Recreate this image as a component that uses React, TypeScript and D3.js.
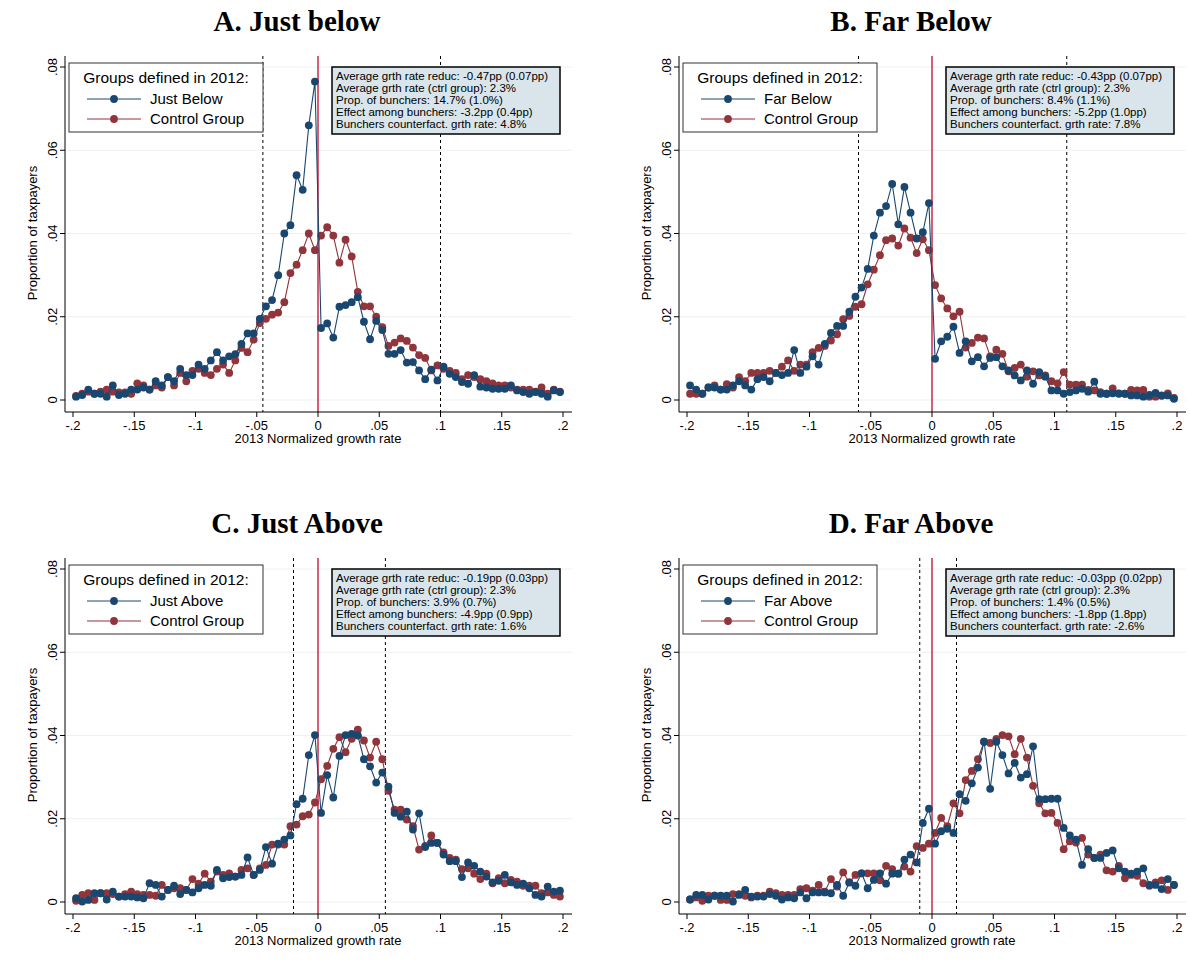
import * as d3 from "d3";

// bin centres: -0.1975 ... 0.1975, step 0.005
const bins: number[] = d3.range(80).map((i) => -0.1975 + i * 0.005);

const yTicks = [0, 0.02, 0.04, 0.06, 0.08];
const yTickLabels = ["0", ".02", ".04", ".06", ".08"];
const xTicks = [-0.2, -0.15, -0.1, -0.05, 0, 0.05, 0.1, 0.15, 0.2];
const xTickLabels = ["-.2", "-.15", "-.1", "-.05", "0", ".05", ".1", ".15", ".2"];

const titles = ["A. Just below", "B. Far Below", "C. Just Above", "D. Far Above"];
const groupNames = ["Just Below", "Far Below", "Just Above", "Far Above"];
const cutoffs = [[-0.045, 0.1], [-0.06, 0.11], [-0.02, 0.055], [-0.01, 0.02]];

const statsA = ["Average grth rate reduc: -0.47pp (0.07pp)", "Average grth rate (ctrl group): 2.3%", "Prop. of bunchers: 14.7% (1.0%)", "Effect among bunchers: -3.2pp (0.4pp)", "Bunchers counterfact. grth rate: 4.8%"];
const statsB = ["Average grth rate reduc: -0.43pp (0.07pp)", "Average grth rate (ctrl group): 2.3%", "Prop. of bunchers: 8.4% (1.1%)", "Effect among bunchers: -5.2pp (1.0pp)", "Bunchers counterfact. grth rate: 7.8%"];
const statsC = ["Average grth rate reduc: -0.19pp (0.03pp)", "Average grth rate (ctrl group): 2.3%", "Prop. of bunchers: 3.9% (0.7%)", "Effect among bunchers: -4.9pp (0.9pp)", "Bunchers counterfact. grth rate: 1.6%"];
const statsD = ["Average grth rate reduc: -0.03pp (0.02pp)", "Average grth rate (ctrl group): 2.3%", "Prop. of bunchers: 1.4% (0.5%)", "Effect among bunchers: -1.8pp (1.8pp)", "Bunchers counterfact. grth rate: -2.6%"];

const groupA = [0.0008,0.0012,0.0025,0.0015,0.0015,0.0008,0.0035,0.0012,0.0015,0.0025,0.0025,0.003,0.0025,0.0045,0.0035,0.0055,0.0045,0.0075,0.006,0.006,0.0085,0.0075,0.0095,0.0115,0.0095,0.0105,0.011,0.0135,0.016,0.016,
  0.0195,0.0225,0.024,0.03,0.04,0.042,0.054,0.0505,0.066,0.0765,
  0.0173,0.0184,0.015,0.0224,0.0228,0.0235,0.0247,0.0188,0.0146,0.019,0.0168,0.0111,0.0111,0.012,0.009,0.0091,0.0071,0.005,0.0073,0.0047,0.008,0.0063,0.0055,0.0043,0.0039,0.006,0.0032,0.003,0.0027,0.0027,0.0027,0.0035,0.0023,0.0019,0.0015,0.0019,0.0015,0.0008,0.0023,0.0019];
const controlA = [0.001,0.0015,0.002,0.0015,0.002,0.0025,0.002,0.0018,0.0018,0.0015,0.004,0.0035,0.0025,0.0035,0.003,0.0055,0.0035,0.0065,0.0045,0.007,0.0075,0.0065,0.006,0.0075,0.0085,0.0065,0.0095,0.0125,0.0115,0.0145,
  0.0185,0.0195,0.0205,0.021,0.0235,0.0305,0.0325,0.036,0.04,0.036,
  0.0395,0.0415,0.0395,0.033,0.0385,0.0345,0.026,0.0225,0.0225,0.02,0.0175,0.013,0.0138,0.0148,0.0142,0.0126,0.0108,0.0101,0.0071,0.0083,0.0075,0.007,0.0065,0.005,0.006,0.0055,0.005,0.0045,0.004,0.0035,0.0035,0.003,0.0025,0.0025,0.0025,0.002,0.003,0.0015,0.0025,0.002];

const groupB = [0.0035,0.0025,0.0015,0.003,0.003,0.0025,0.0025,0.0035,0.0045,0.0035,0.0025,0.005,0.0055,0.0045,0.0065,0.006,0.0065,0.012,0.0065,0.008,0.0105,0.0085,0.0135,
  0.0161,0.0178,0.0178,0.0212,0.0248,0.027,0.0315,0.0395,0.045,0.0466,0.0519,0.0422,0.0512,0.045,0.0388,0.0403,0.0473,
  0.0099,0.0141,0.0152,0.0176,0.0113,0.0141,0.0093,0.0103,0.0081,0.0101,0.0103,0.0081,0.0071,0.0059,0.0047,0.0071,0.0039,0.0067,0.0056,0.0023,0.0023,0.0015,0.0019,0.0023,0.0027,0.002,0.0044,0.0015,0.0015,0.0016,0.0015,0.0015,0.0011,0.0011,0.0008,0.0012,0.0017,0.0011,0.0011,0.0003];
const controlB = [0.0015,0.0015,0.0015,0.003,0.0035,0.0025,0.0038,0.003,0.0055,0.0045,0.0065,0.0065,0.0065,0.007,0.0065,0.008,0.0095,0.007,0.0085,0.0085,0.0115,0.0125,0.013,
  0.0143,0.0158,0.0194,0.0202,0.0224,0.023,0.0278,0.0313,0.0348,0.0384,0.0388,0.0371,0.0412,0.039,0.0353,0.0386,0.036,
  0.0276,0.0244,0.022,0.0201,0.0212,0.0126,0.0137,0.015,0.0148,0.0105,0.0121,0.0111,0.0069,0.0077,0.0085,0.0056,0.0069,0.0059,0.0059,0.0045,0.004,0.0067,0.0037,0.0037,0.0037,0.0024,0.0023,0.0019,0.0015,0.0028,0.0016,0.0015,0.0024,0.0023,0.0024,0.0008,0.0008,0.001,0.0016,0.0005];

const groupC = [0.0009,0.0001,0.0005,0.0021,0.0021,0.0006,0.0025,0.0013,0.0013,0.0013,0.0011,0.0009,0.0045,0.0041,0.0013,0.0029,0.0039,0.0019,0.0029,0.0023,0.0033,0.0041,0.0039,0.0077,0.0057,0.006,0.0061,0.0065,0.0107,0.0065,0.0077,0.0132,0.0092,0.014,0.015,0.016,0.0235,0.0248,0.0353,0.0401,
  0.0214,0.0305,0.0251,0.0351,0.0401,0.0404,0.04,0.0343,0.0326,0.0287,0.0311,0.0277,0.0214,0.0205,0.0217,0.0174,0.0213,0.0132,0.0142,0.0142,0.0114,0.0098,0.0098,0.006,0.0095,0.0087,0.0073,0.0061,0.0047,0.0051,0.0065,0.0047,0.0041,0.0044,0.0033,0.0017,0.0013,0.0037,0.0025,0.0027];
const controlC = [0.0003,0.0017,0.0021,0.0005,0.0021,0.0021,0.0019,0.0013,0.0019,0.0025,0.0019,0.0017,0.0017,0.0015,0.0041,0.0029,0.0033,0.0033,0.0029,0.0055,0.0044,0.0068,0.0049,0.0073,0.0065,0.0069,0.0061,0.0077,0.0081,0.0065,0.0081,0.0089,0.0138,0.0138,0.0138,0.0182,0.0186,0.0206,0.021,0.0239,
  0.0295,0.0327,0.0368,0.0396,0.036,0.0392,0.0414,0.0388,0.0347,0.0385,0.0343,0.0267,0.0222,0.0222,0.0198,0.0182,0.0126,0.0135,0.016,0.0142,0.0119,0.0106,0.0102,0.0079,0.0081,0.0068,0.0055,0.0068,0.0045,0.0057,0.0045,0.0053,0.0049,0.0039,0.0039,0.0039,0.0021,0.0023,0.0017,0.0013];

const groupD = [0.0006,0.0017,0.0017,0.0006,0.0015,0.0015,0.0015,0.0001,0.0017,0.0029,0.0013,0.0013,0.0013,0.0019,0.0015,0.0006,0.0011,0.0009,0.0023,0.0009,0.0023,0.0023,0.0023,0.0021,0.0041,0.0015,0.0047,0.0039,0.0069,0.0033,0.0053,0.0069,0.0044,0.0068,0.0068,0.0102,0.0114,0.0095,0.019,0.0224,
  0.014,0.017,0.0176,0.0166,0.0259,0.0243,0.0285,0.0323,0.0385,0.0272,0.0385,0.0353,0.0309,0.0334,0.0299,0.0307,0.0374,0.0247,0.0247,0.0248,0.0248,0.0178,0.016,0.015,0.0089,0.0127,0.0106,0.0106,0.0118,0.0124,0.0081,0.0073,0.0068,0.0073,0.0081,0.0041,0.0041,0.0031,0.0055,0.0041];
const controlD = [0.0006,0.0011,0.0003,0.0015,0.0015,0.0005,0.0005,0.0019,0.0019,0.0015,0.0011,0.0015,0.0015,0.0025,0.0021,0.0017,0.0017,0.0017,0.0031,0.0033,0.0027,0.0041,0.0025,0.0055,0.0037,0.0071,0.0047,0.0065,0.0069,0.0069,0.0069,0.0052,0.0087,0.0079,0.0068,0.0085,0.0073,0.0134,0.013,0.014,
  0.0166,0.0202,0.0182,0.0237,0.0213,0.0293,0.0315,0.0343,0.0385,0.0382,0.0392,0.0401,0.0398,0.0355,0.0392,0.0347,0.0279,0.0237,0.0213,0.0214,0.019,0.0127,0.0146,0.0143,0.0154,0.0114,0.0106,0.0114,0.0076,0.0073,0.0087,0.0057,0.0065,0.0063,0.0045,0.0039,0.0047,0.0052,0.0029,0.0041];

const groups = [groupA, groupB, groupC, groupD];
const controls = [controlA, controlB, controlC, controlD];
const stats = [statsA, statsB, statsC, statsD];

const BLUE = "#1a476f";
const RED = "#90353b";
const SANS = "'Liberation Sans', Arial, sans-serif";
const R = 3.9;

const Panel = ({ idx, ox, oy }: { idx: number; ox: number; oy: number }) => {
  const x = d3.scaleLinear().domain([-0.2, 0.2]).range([ox + 73, ox + 563]);
  const y = d3.scaleLinear().domain([0, 0.08]).range([oy + 400, oy + 67]);
  const line = d3.line<number>().x((_, i) => x(bins[i])).y((d) => y(d));
  const g = groups[idx];
  const c = controls[idx];
  const left = ox + 65;
  const bottom = oy + 412;
  return (
    <g>
      <text x={ox + 297} y={oy + 31} textAnchor="middle" fontFamily="'Liberation Serif', serif" fontWeight="bold" fontSize={29}>{titles[idx]}</text>
      {yTicks.map((t) => (
        <line key={t} x1={left} x2={ox + 572} y1={y(t)} y2={y(t)} stroke="#eaf2f3" strokeWidth={1} />
      ))}
      {cutoffs[idx].map((v) => (
        <line key={v} x1={x(v)} x2={x(v)} y1={oy + 56} y2={bottom} stroke="#000" strokeDasharray="3,3" strokeWidth={1} />
      ))}
      <line x1={x(0)} x2={x(0)} y1={oy + 56} y2={bottom} stroke="#c8284a" strokeWidth={1.5} />
      <path d={line(c) ?? ""} fill="none" stroke={RED} strokeWidth={1.1} />
      {c.map((d, i) => <circle key={"c" + i} cx={x(bins[i])} cy={y(d)} r={R} fill={RED} />)}
      <path d={line(g) ?? ""} fill="none" stroke={BLUE} strokeWidth={1.1} />
      {g.map((d, i) => <circle key={"g" + i} cx={x(bins[i])} cy={y(d)} r={R} fill={BLUE} />)}
      {/* axes */}
      <line x1={left} x2={left} y1={oy + 56} y2={bottom} stroke="#000" />
      <line x1={left} x2={ox + 572} y1={bottom} y2={bottom} stroke="#000" />
      {yTicks.map((t, i) => (
        <g key={"yt" + t}>
          <line x1={left - 5} x2={left} y1={y(t)} y2={y(t)} stroke="#000" />
          <text transform={`translate(${left - 8},${y(t)}) rotate(-90)`} textAnchor="middle" fontFamily={SANS} fontSize={13}>{yTickLabels[i]}</text>
        </g>
      ))}
      {xTicks.map((t, i) => (
        <g key={"xt" + t}>
          <line x1={x(t)} x2={x(t)} y1={bottom} y2={bottom + 5} stroke="#000" />
          <text x={x(t)} y={bottom + 18} textAnchor="middle" fontFamily={SANS} fontSize={13}>{xTickLabels[i]}</text>
        </g>
      ))}
      <text x={x(0)} y={bottom + 31} textAnchor="middle" fontFamily={SANS} fontSize={13}>2013 Normalized growth rate</text>
      <text transform={`translate(${ox + 37},${oy + 233}) rotate(-90)`} textAnchor="middle" fontFamily={SANS} fontSize={13}>Proportion of taxpayers</text>
      {/* legend */}
      <rect x={ox + 69} y={oy + 63} width={194} height={69} fill="#fff" stroke="#333" />
      <text x={ox + 166} y={oy + 83} textAnchor="middle" fontFamily={SANS} fontSize={15.5}>Groups defined in 2012:</text>
      <line x1={ox + 87} x2={ox + 141} y1={oy + 99} y2={oy + 99} stroke={BLUE} />
      <circle cx={ox + 114} cy={oy + 99} r={R} fill={BLUE} />
      <text x={ox + 150} y={oy + 104} fontFamily={SANS} fontSize={15}>{groupNames[idx]}</text>
      <line x1={ox + 87} x2={ox + 141} y1={oy + 119} y2={oy + 119} stroke={RED} />
      <circle cx={ox + 114} cy={oy + 119} r={R} fill={RED} />
      <text x={ox + 150} y={oy + 124} fontFamily={SANS} fontSize={15}>Control Group</text>
      {/* stats box */}
      <rect x={ox + 332} y={oy + 67} width={228} height={67} fill="#d9e5eb" stroke="#000" strokeWidth={1.5} />
      {stats[idx].map((s, i) => (
        <text key={s} x={ox + 336} y={oy + 80 + i * 12} fontFamily={SANS} fontSize={11.5}>{s}</text>
      ))}
    </g>
  );
};

export default function App() {
  return (
    <svg width={1190} height={962} style={{ position: "absolute", left: 0, top: 0, background: "#fff" }}>
      <rect width={1190} height={962} fill="#fff" />
      <Panel idx={0} ox={0} oy={0} />
      <Panel idx={1} ox={614} oy={0} />
      <Panel idx={2} ox={0} oy={502} />
      <Panel idx={3} ox={614} oy={502} />
    </svg>
  );
}
